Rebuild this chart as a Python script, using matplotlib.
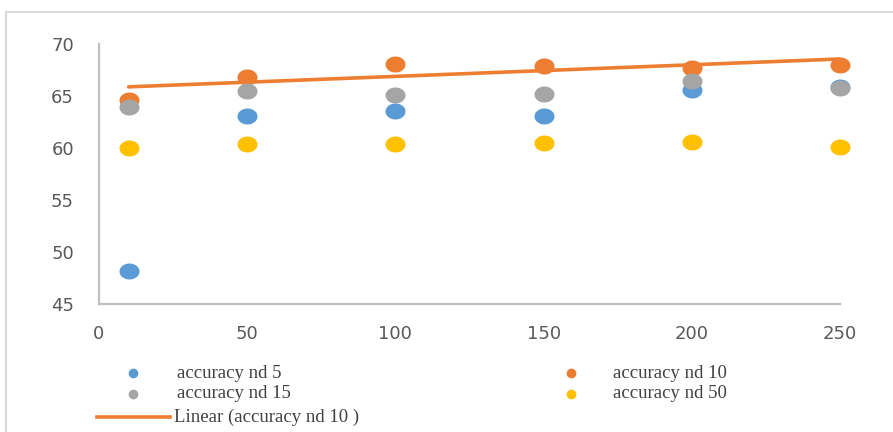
import numpy as np
import matplotlib
matplotlib.use("Agg")
import matplotlib.pyplot as plt
from matplotlib.path import Path
from matplotlib.lines import Line2D
from matplotlib.patches import Rectangle

# ---- data ----
x_vals = [10, 50, 100, 150, 200, 250]
nd5 = [48.2, 63.1, 63.6, 63.1, 65.6, 65.9]
nd10 = [64.6, 66.8, 68.1, 67.9, 67.7, 68.0]
nd15 = [63.9, 65.5, 65.1, 65.2, 66.4, 65.8]
nd50 = [60.0, 60.4, 60.4, 60.5, 60.6, 60.1]
series_names = ["accuracy nd 5", "accuracy nd 10", "accuracy nd 15", "accuracy nd 50"]
trend_name = "Linear (accuracy nd 10 )"
x_ticks = [0, 50, 100, 150, 200, 250]
y_ticks = [45, 50, 55, 60, 65, 70]

colors = ["#5B9BD5", "#ED7D31", "#A5A5A5", "#FFC000"]

fig = plt.figure(figsize=(8.93, 4.32), dpi=100)
W, H = 893, 432

# outer border
fig.add_artist(Rectangle((6 / W, 0 - 0.01), 1.0, 1 - 12 / H + 0.01, transform=fig.transFigure,
                         fill=False, edgecolor="#d9d9d9", linewidth=1.5))

ax = fig.add_axes([99 / W, 1 - 304 / H, (840 - 99) / W, (304 - 44) / H])
ax.set_xlim(0, 250)
ax.set_ylim(45, 70)
ax.set_xticks(x_ticks)
ax.set_yticks(y_ticks)
ax.tick_params(length=0, labelsize=13, labelcolor="#595959")
ax.tick_params(axis="y", pad=18)
ax.tick_params(axis="x", pad=15)
for s in ["top", "right"]:
    ax.spines[s].set_visible(False)
for s in ["left", "bottom"]:
    ax.spines[s].set_color("#bfbfbf")
    ax.spines[s].set_linewidth(1.6)

t = np.linspace(0, 2 * np.pi, 60)
ell = Path(np.column_stack([np.cos(t), 0.8 * np.sin(t)]), closed=True)

# trendline (linear fit of nd10)
coef = np.polyfit(x_vals, nd10, 1)
xt = np.array([min(x_vals), max(x_vals)])
ax.plot(xt, np.polyval(coef, xt), color="#ED7D31", lw=2.6, zorder=2, solid_capstyle="round")

for ys, c in zip([nd5, nd10, nd15, nd50], colors):
    ax.plot(x_vals, ys, linestyle="none", marker=ell, markersize=14.4,
            markerfacecolor=c, markeredgecolor=c, markeredgewidth=0, zorder=3, clip_on=False)

# legend (manual)
tfont = dict(family=["Liberation Serif", "DejaVu Serif"], size=13.5, color="#404040", va="center")
legend_pos = [(133, 373, 177), (571, 373, 613), (133, 394, 177), (571, 394, 613)]
for (mx, my, tx), c, name in zip(legend_pos, colors, series_names):
    fig.add_artist(Line2D([mx / W], [1 - my / H], transform=fig.transFigure, marker="o",
                          markersize=7, color=c, markeredgewidth=0, linestyle="none"))
    fig.text(tx / W, 1 - my / H, name, **tfont)
fig.add_artist(Line2D([97 / W, 170 / W], [1 - 417 / H, 1 - 417 / H], transform=fig.transFigure,
                      color="#ED7D31", lw=2.6))
fig.text(174 / W, 1 - 417 / H, trend_name, **tfont)

fig.savefig("out.png", dpi=100)
